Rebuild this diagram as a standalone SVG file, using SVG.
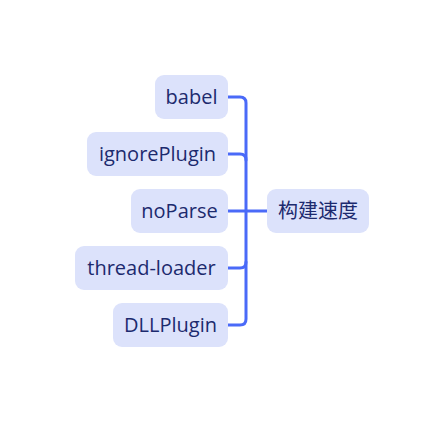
<svg xmlns="http://www.w3.org/2000/svg" width="444" height="423" viewBox="0 0 444 423">
<style>
.box{fill:#dce2fb}
.t{font-family:"Open Sans","Noto Sans CJK SC",sans-serif;font-size:20px;fill:#1c2a6e;text-anchor:middle}
.c{fill:none;stroke:#4a6af8;stroke-width:3;stroke-linecap:round;stroke-linejoin:round}
</style>
<rect width="444" height="423" fill="#ffffff"/>
<g id="connectors">
<path class="c" d="M228,97 H240 Q246,97 246,103 V319 Q246,325 240,325 H228"/>
<path class="c" d="M228,154 H240 Q246,154 246,160"/>
<path class="c" d="M228,268 H240 Q246,268 246,262"/>
<path class="c" d="M228,211 H267"/>
</g>
<g id="root">
<rect class="box" x="267" y="189" width="102" height="44" rx="9"/>
<text class="t" x="318" y="218">构建速度</text>
</g>
<g id="babel">
<rect class="box" x="155" y="75" width="73" height="44" rx="9"/>
<text class="t" x="191.5" y="104">babel</text>
</g>
<g id="ignorePlugin">
<rect class="box" x="87" y="132" width="141" height="44" rx="9"/>
<text class="t" x="157.5" y="161">ignorePlugin</text>
</g>
<g id="noParse">
<rect class="box" x="131" y="189" width="97" height="44" rx="9"/>
<text class="t" x="179.5" y="218">noParse</text>
</g>
<g id="thread-loader">
<rect class="box" x="75" y="246" width="153" height="44" rx="9"/>
<text class="t" x="151.5" y="275">thread-loader</text>
</g>
<g id="DLLPlugin">
<rect class="box" x="113" y="303" width="115" height="44" rx="9"/>
<text class="t" x="170.5" y="332">DLLPlugin</text>
</g>
</svg>
